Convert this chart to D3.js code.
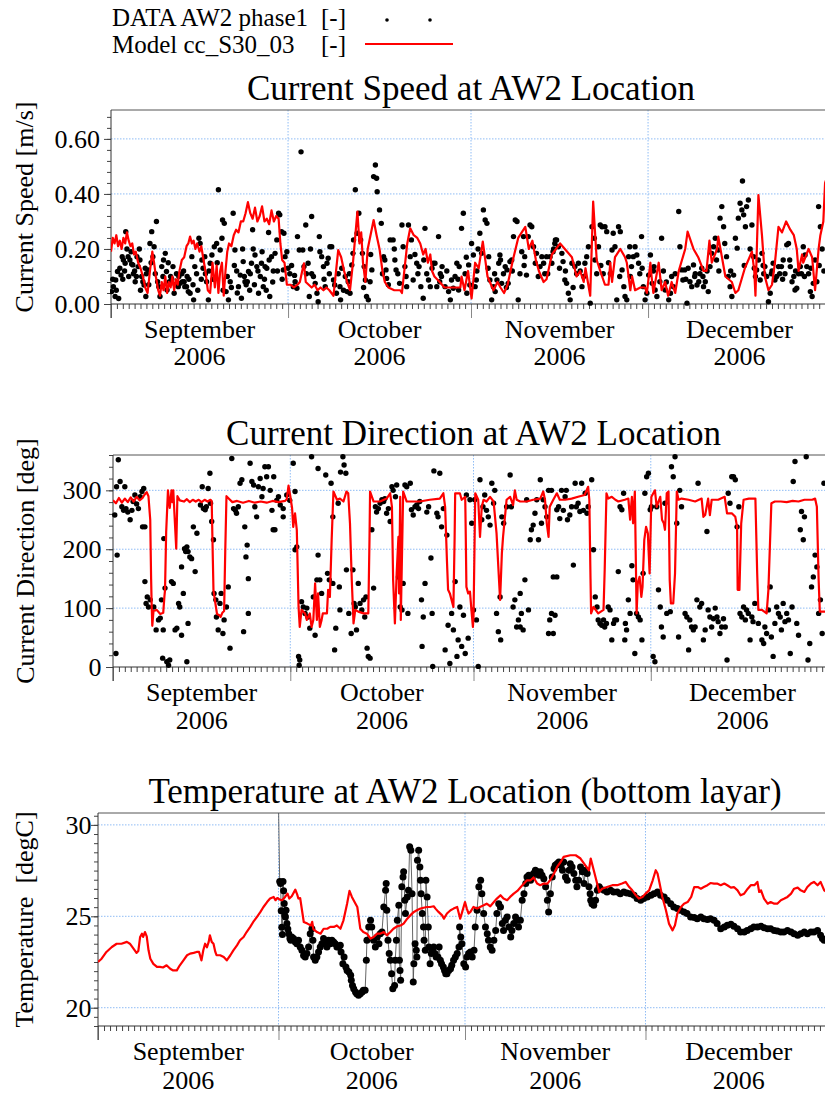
<!DOCTYPE html>
<html><head><meta charset="utf-8">
<script src="https://cdn.jsdelivr.net/npm/d3@7"></script>
<style>
body{margin:0;background:#fff}
svg{display:block}
text{font-family:"Liberation Serif","Times New Roman",serif;fill:#000}
</style>
</head><body>
<svg id="c" width="825" height="1097"></svg>
<script>
// ---------------- DATA ----------------
// day offsets are days since 2006-09-01
const monthNames = ["September","October","November","December"];
const yearLabel = "2006";
const speedTicks = [0, 0.2, 0.4, 0.6];
const dirTicks = [0, 100, 200, 300];
const tempTicks = [20, 25, 30];

const speedModel = [[0,.19],[0.3,.24],[0.6,.22],[0.9,.25],[1.2,.21],[1.5,.23],[1.8,.2],[2.1,.24],[2.4,.22],[2.7,.26],[3.0,.23],[3.3,.21],[3.6,.22],[3.9,.18],[4.2,.19],[4.6,.15],[5.0,.13],[5.4,.1],[5.8,.06],[6.2,.04],[6.6,.12],[7.0,.19],[7.3,.15],[7.6,.1],[8.0,.05],[8.3,.03],[8.6,.08],[8.9,.05],[9.2,.1],[9.5,.04],[9.8,.08],[10.1,.06],[10.4,.1],[10.7,.05],[11.0,.09],[11.3,.07],[11.6,.12],[12.0,.16],[12.4,.17],[12.8,.21],[13.1,.22],[13.4,.245],[13.7,.22],[14.0,.23],[14.3,.2],[14.6,.22],[15.0,.19],[15.3,.21],[15.6,.17],[16.0,.12],[16.4,.05],[16.8,.04],[17.2,.15],[17.6,.06],[17.9,.14],[18.2,.04],[18.5,.12],[18.8,.15],[19.1,.03],[19.4,.12],[19.7,.19],[20.0,.22],[20.4,.21],[20.8,.25],[21.2,.27],[21.6,.26],[22.0,.3],[22.4,.3],[22.8,.33],[23.2,.37],[23.6,.33],[24.0,.31],[24.4,.35],[24.8,.3],[25.2,.32],[25.6,.355],[26.0,.3],[26.4,.31],[26.8,.29],[27.2,.34],[27.6,.3],[28.0,.32],[28.4,.31],[28.7,.22],[29.0,.16],[29.4,.15],[29.8,.07],[30.4,.07],[31.0,.06],[31.6,.07],[32.0,.08],[32.4,.12],[32.7,.148],[33.0,.08],[33.5,.07],[34.0,.06],[34.5,.07],[35.0,.05],[35.5,.06],[36.0,.05],[36.5,.06],[37.0,.05],[37.7,.03],[38.5,.196],[39.0,.17],[39.5,.12],[40.0,.08],[40.5,.05],[41.0,.15],[41.75,.336],[42.1,.22],[42.4,.26],[42.7,.15],[43.1,.08],[43.5,.2],[44.5,.305],[45.0,.25],[45.5,.2],[46.0,.12],[46.4,.08],[47.0,.06],[48.0,.05],[49.0,.05],[49.3,.04],[49.7,.12],[50.2,.22],[50.7,.275],[51.3,.25],[51.9,.24],[52.4,.22],[52.9,.18],[53.3,.2],[53.7,.15],[54.1,.18],[54.4,.12],[54.8,.1],[55.7,.08],[56.5,.06],[57.5,.06],[58.3,.06],[59.2,.06],[59.4,.1],[59.9,.05],[60.5,.12],[61.1,.02],[61.7,.15],[62.3,.13],[63.0,.227],[63.8,.1],[64.8,.05],[65.5,.08],[66.0,.06],[66.6,.04],[67.2,.07],[68.1,.16],[69.0,.24],[69.6,.26],[70.2,.28],[70.8,.2],[71.4,.23],[72.0,.16],[72.5,.12],[73.3,.08],[73.8,.09],[74.7,.18],[75.4,.2],[76.1,.22],[76.9,.2],[78.1,.17],[78.9,.1],[79.5,.12],[80.1,.08],[80.4,.13],[81.2,.03],[81.7,.372],[82.3,.16],[82.9,.12],[83.7,.07],[84.3,.07],[84.6,.15],[84.9,.08],[85.4,.17],[86.3,.2],[87.1,.17],[87.4,.15],[88.0,.05],[88.3,.1],[88.8,.05],[89.7,.06],[90.5,.06],[90.8,.04],[91.4,.15],[91.6,.1],[91.9,.04],[92.8,.15],[93.3,.05],[93.9,.08],[94.4,.03],[95.0,.08],[95.6,.04],[96.2,.12],[97.3,.2],[97.7,.263],[98.7,.2],[99.5,.17],[100.4,.12],[100.9,.12],[101.4,.23],[101.8,.15],[102.7,.2],[102.9,.245],[104.1,.1],[105.2,.08],[105.8,.04],[106.3,.05],[107.4,.13],[108.6,.19],[109.0,.12],[109.2,.03],[109.7,.396],[110.3,.25],[110.8,.1],[111.4,.05],[112.0,.07],[112.5,.15],[113.1,.28],[113.7,.26],[114.4,.3],[115.1,.27],[115.7,.25],[116.2,.2],[116.5,.12],[117.1,.18],[117.3,.15],[118.2,.2],[118.8,.17],[119.3,.05],[119.9,.2],[120.2,.25],[120.7,.3],[121.0,.44],[121.3,.46]];

const speedData = [[0.1,.045],[0.3,.09],[0.4,.063],[0.7,.027],[0.8,.087],[0.9,.05],[1.1,.118],[1.3,.02],[1.5,.13],[1.7,.105],[1.9,.172],[2.0,.09],[2.1,.16],[2.3,.12],[2.4,.148],[2.5,.263],[2.7,.2],[2.9,.172],[3.0,.1],[3.2,.16],[3.4,.19],[3.5,.145],[3.7,.142],[3.8,.11],[4.0,.12],[4.1,.081],[4.3,.1],[4.4,.172],[4.6,.136],[4.8,.2],[4.9,.16],[5.0,.05],[5.2,.1],[5.4,.081],[5.6,.069],[5.8,.13],[5.9,.027],[6.0,.11],[6.3,.124],[6.4,.07],[6.6,.22],[6.8,.15],[6.9,.263],[7.1,.172],[7.3,.208],[7.5,.11],[7.7,.3],[7.9,.081],[8.1,.063],[8.3,.027],[8.6,.136],[8.8,.1],[8.9,.16],[9.2,.184],[9.4,.118],[9.5,.051],[9.7,.15],[9.9,.081],[10.1,.1],[10.3,.09],[10.5,.136],[10.7,.039],[10.9,.07],[11.1,.11],[11.4,.063],[11.5,.1],[11.7,.075],[12.0,.11],[12.1,.081],[12.3,.12],[12.4,.081],[12.5,.063],[12.8,.063],[12.9,.1],[13.1,.045],[13.2,.09],[13.4,.039],[13.7,.172],[13.9,.07],[14.0,.015],[14.2,.136],[14.5,.11],[14.7,.05],[14.9,.239],[15.1,.22],[15.3,.09],[15.4,.16],[15.6,.13],[15.9,.172],[16.0,.11],[16.2,.081],[16.5,.015],[16.6,.12],[16.8,.148],[17.1,.178],[17.3,.09],[17.5,.208],[17.9,.22],[18.0,.15],[18.2,.415],[18.5,.196],[18.8,.239],[18.9,.305],[19.0,.05],[19.2,.293],[19.5,.045],[19.7,.1],[19.9,.015],[20.2,.081],[20.4,.06],[20.7,.33],[20.9,.14],[21.0,.196],[21.3,.12],[21.4,.04],[21.6,.063],[21.9,.105],[22.1,.021],[22.3,.2],[22.4,.154],[22.6,.1],[22.7,.081],[22.9,.07],[23.1,.081],[23.3,.118],[23.5,.05],[23.6,.11],[23.8,.148],[24.0,.27],[24.1,.2],[24.3,.07],[24.4,.178],[24.7,.136],[24.9,.12],[25.0,.039],[25.3,.1],[25.5,.148],[25.6,.19],[25.8,.063],[26.0,.09],[26.1,.136],[26.3,.05],[26.4,.13],[26.7,.26],[26.8,.16],[26.9,.027],[27.2,.172],[27.4,.08],[27.5,.12],[27.8,.184],[28.1,.233],[28.2,.12],[28.4,.33],[28.6,.324],[28.9,.263],[29.0,.09],[29.2,.124],[29.3,.257],[29.5,.172],[29.8,.19],[30.0,.13],[30.3,.11],[30.6,.14],[30.9,.063],[31.1,.104],[31.2,.081],[31.5,.057],[31.6,.245],[31.9,.196],[32.2,.553],[32.5,.196],[32.7,.136],[33.0,.287],[33.1,.11],[33.4,.148],[33.6,.027],[33.8,.2],[34.0,.318],[34.0,.11],[34.3,.1],[34.6,.075],[34.9,.039],[35.1,.008],[35.3,.245],[35.4,.19],[35.7,.172],[36.0,.136],[36.1,.09],[36.3,.063],[36.6,.148],[36.8,.166],[37.0,.11],[37.1,.208],[37.4,.208],[37.7,.087],[37.9,.069],[38.2,.039],[38.5,.11],[38.8,.063],[38.9,.015],[39.1,.13],[39.4,.05],[39.7,.1],[40.0,.045],[40.2,.081],[40.4,.11],[40.5,.039],[40.8,.142],[41.0,.184],[41.1,.233],[41.4,.415],[41.7,.257],[42.0,.33],[42.3,.233],[42.6,.184],[42.8,.06],[42.9,.136],[43.1,.087],[43.3,.027],[43.6,.015],[43.9,.081],[44.0,.18],[44.2,.124],[44.5,.463],[44.8,.505],[45.0,.457],[45.1,.408],[45.5,.342],[45.8,.293],[46.0,.11],[46.2,.172],[46.4,.16],[46.6,.124],[46.7,.093],[47.0,.07],[47.3,.233],[47.8,.233],[48.0,.2],[48.1,.16],[48.3,.124],[48.6,.11],[48.9,.075],[49.3,.287],[49.5,.208],[49.8,.136],[50.0,.1],[50.1,.063],[50.4,.287],[50.7,.172],[50.9,.233],[51.2,.087],[51.5,.18],[51.8,.148],[52.0,.11],[52.2,.136],[52.5,.063],[52.9,.021],[53.0,.16],[53.2,.275],[53.5,.11],[53.8,.087],[54.1,.063],[54.4,.13],[54.6,.148],[54.9,.148],[55.2,.063],[55.5,.245],[55.7,.081],[55.8,.11],[56.0,.1],[56.1,.136],[56.6,.063],[56.9,.12],[57.2,.045],[57.5,.015],[57.7,.087],[58.0,.057],[58.3,.1],[58.6,.148],[58.8,.09],[58.9,.051],[59.0,.136],[59.4,.275],[59.7,.33],[60.0,.11],[60.2,.17],[60.3,.039],[60.6,.142],[60.8,.069],[61.1,.22],[61.4,.178],[61.7,.063],[61.9,.087],[62.0,.12],[62.2,.2],[62.5,.257],[62.8,.184],[63.1,.342],[63.4,.305],[63.7,.293],[63.9,.13],[64.0,.172],[64.2,.087],[64.5,.015],[64.8,.063],[65.0,.11],[65.1,.045],[65.4,.087],[65.7,.148],[65.9,.178],[66.0,.16],[66.2,.075],[66.5,.11],[66.8,.136],[67.0,.06],[67.1,.124],[67.3,.075],[67.6,.154],[67.9,.16],[68.0,.12],[68.2,.245],[68.5,.305],[68.8,.3],[69.0,.015],[69.3,.11],[69.6,.19],[69.9,.245],[70.0,.14],[70.1,.172],[70.4,.105],[70.7,.245],[71.0,.287],[71.3,.281],[71.6,.208],[71.9,.148],[72.1,.184],[72.4,.1],[72.7,.136],[73.0,.172],[73.3,.148],[73.5,.11],[73.8,.172],[74.0,.11],[74.4,.172],[74.7,.148],[74.9,.19],[75.0,.2],[75.2,.22],[75.3,.233],[75.5,.233],[75.8,.208],[76.0,.13],[76.4,.184],[76.6,.154],[76.9,.087],[77.0,.12],[77.2,.075],[77.5,.039],[77.8,.015],[78.1,.148],[78.3,.06],[78.6,.136],[78.9,.11],[79.2,.148],[79.5,.12],[79.8,.063],[80.1,.1],[80.3,.148],[80.6,.172],[80.9,.208],[81.2,.003],[81.5,.281],[81.9,.239],[82.0,.16],[82.3,.11],[82.6,.208],[82.9,.287],[83.0,.14],[83.2,.281],[83.4,.11],[83.7,.281],[84.0,.263],[84.3,.15],[84.6,.11],[84.9,.196],[85.1,.257],[85.4,.208],[85.7,.015],[86.0,.281],[86.2,.1],[86.3,.263],[86.6,.124],[86.9,.063],[87.1,.027],[87.4,.015],[87.7,.172],[87.9,.208],[88.0,.1],[88.2,.136],[88.5,.172],[88.8,.208],[89.1,.178],[89.4,.148],[89.6,.11],[89.9,.245],[90.0,.13],[90.2,.063],[90.5,.015],[90.8,.039],[91.1,.105],[91.4,.178],[91.7,.075],[91.9,.12],[92.0,.136],[92.2,.051],[92.5,.027],[93.0,.081],[93.3,.239],[93.6,.12],[93.9,.051],[94.1,.08],[94.5,.015],[94.8,.039],[95.0,.1],[95.3,.063],[95.6,.11],[96.2,.336],[96.4,.208],[96.7,.124],[96.9,.087],[97.2,.124],[97.4,.09],[97.6,.003],[97.8,.13],[98.1,.081],[98.4,.063],[98.7,.142],[98.9,.1],[99.0,.11],[99.3,.069],[99.6,.081],[99.8,.11],[100.1,.13],[100.3,.1],[100.4,.063],[100.7,.081],[101.0,.12],[101.2,.045],[101.5,.136],[101.8,.184],[102.1,.208],[102.4,.239],[102.6,.16],[102.9,.196],[103.0,.12],[103.2,.312],[103.5,.354],[103.8,.281],[104.0,.22],[104.3,.172],[104.6,.1],[104.9,.063],[105.0,.12],[105.2,.027],[105.5,.105],[105.8,.239],[106.1,.203],[106.3,.312],[106.6,.366],[106.9,.342],[107.0,.447],[107.2,.324],[107.3,.14],[107.5,.281],[107.7,.354],[108.0,.378],[108.3,.2],[108.6,.287],[108.9,.172],[109.0,.13],[109.2,.1],[109.4,.124],[109.7,.16],[110.0,.087],[110.3,.184],[110.5,.14],[110.6,.11],[110.8,.136],[111.1,.1],[111.4,.008],[111.7,.039],[111.9,.11],[112.0,.12],[112.2,.148],[112.5,.087],[112.8,.1],[113.1,.136],[113.3,.11],[113.6,.136],[113.8,.09],[113.9,.16],[114.2,.11],[114.5,.215],[114.8,.22],[115.0,.16],[115.1,.136],[115.4,.081],[115.7,.1],[115.9,.051],[116.0,.12],[116.2,.057],[116.5,.11],[116.8,.136],[117.0,.11],[117.3,.208],[117.5,.1],[117.6,.178],[117.9,.136],[118.2,.11],[118.5,.045],[118.6,.13],[118.8,.027],[119.0,.075],[119.3,.16],[119.6,.081],[119.9,.354],[120.0,.14],[120.2,.281],[120.5,.2],[120.8,.12]];

const dirModel = [[0,283],[0.5,278],[1,287],[1.5,279],[2,286],[2.5,280],[3,288],[3.5,281],[4,289],[4.5,283],[5.0,287],[5.3,292],[5.7,297],[6.0,290],[6.3,250],[6.45,150],[6.55,102],[6.65,70],[6.85,95],[7.4,97],[8.0,90],[8.5,92],[8.7,120],[8.8,130],[9.0,230],[9.3,300],[9.6,270],[9.9,300],[10.05,280],[10.2,300],[10.4,260],[10.7,201],[10.9,290],[11.3,283],[12,281],[12.5,285],[13,280],[13.5,284],[14,281],[14.5,284],[15,280],[15.5,284],[16,281],[16.5,284],[16.7,282],[16.9,180],[17.0,130],[17.3,110],[17.6,90],[18.0,88],[18.2,85],[18.5,92],[18.8,95],[19.0,200],[19.2,290],[19.7,285],[20.2,280],[21,282],[22,279],[23,282],[24,279],[25,281],[26,279],[27,282],[28,280],[29.1,282],[29.4,285],[29.7,308],[30.0,290],[30.3,270],[30.5,238],[30.8,261],[31.1,233],[31.4,102],[31.6,68],[31.9,97],[32.5,91],[32.8,80],[33.3,91],[33.6,68],[33.9,80],[34.2,142],[34.5,80],[34.7,125],[35.0,68],[35.3,80],[35.5,91],[36.2,91],[36.4,131],[36.7,119],[37.0,216],[37.3,298],[37.9,284],[38.4,286],[39.0,281],[39.5,298],[39.8,295],[40.1,244],[40.4,148],[40.7,74],[41.0,97],[41.5,94],[42.4,91],[43.2,91],[43.4,216],[43.5,298],[44.1,281],[45.2,281],[46.3,286],[46.9,295],[47.2,272],[47.4,148],[47.7,74],[48.0,159],[48.3,221],[48.4,125],[48.6,289],[48.7,80],[48.8,136],[49.1,298],[49.7,281],[50.8,281],[51.9,281],[53.6,284],[55.3,286],[55.9,295],[56.2,272],[56.5,182],[56.7,131],[57.0,125],[57.6,102],[57.8,216],[57.9,295],[58.7,295],[59.0,284],[59.6,289],[59.7,216],[59.8,136],[60.1,125],[60.4,128],[60.7,91],[60.9,68],[61.0,85],[61.3,295],[61.8,284],[62.1,221],[62.4,272],[62.7,284],[63.2,281],[63.8,289],[64.4,281],[64.9,227],[65.2,170],[65.5,114],[65.8,193],[66.0,221],[66.6,284],[67.2,289],[67.7,275],[68.0,300],[68.3,284],[68.9,281],[70.0,281],[71.1,284],[72.3,286],[72.8,298],[73.1,284],[73.4,244],[73.7,221],[73.9,272],[74.5,284],[75.1,295],[75.6,284],[76.5,284],[77.6,286],[78.7,289],[79.8,292],[80.4,306],[80.6,284],[80.8,150],[80.9,91],[81.3,102],[82.1,91],[83.0,97],[83.2,165],[83.5,295],[83.8,286],[84.4,289],[85.0,284],[85.5,281],[86.6,284],[87.2,286],[87.5,250],[87.8,289],[88.0,244],[88.3,298],[88.6,91],[88.8,142],[89.1,153],[89.4,119],[89.6,136],[89.9,216],[90.2,238],[90.5,227],[90.8,159],[91.1,289],[91.7,300],[92.0,272],[92.3,281],[92.6,289],[92.9,250],[93.2,244],[93.4,233],[93.7,295],[94.0,298],[94.2,148],[94.4,108],[94.8,108],[95.1,159],[95.4,298],[95.7,284],[96.2,286],[97.4,284],[98.5,281],[99.6,286],[99.9,255],[100.2,258],[100.7,286],[101.0,258],[101.3,284],[102.4,284],[103.5,289],[103.9,261],[104.7,261],[105.3,255],[105.6,238],[105.7,131],[106.0,131],[106.3,244],[106.7,284],[107.6,286],[108.7,286],[109.0,160],[109.2,97],[109.8,97],[110.6,91],[110.9,131],[111.4,278],[112,281],[113,281],[114,280],[115,282],[116,281],[117,284],[118.3,284],[118.8,286],[119.1,272],[119.4,148],[119.6,94],[120.5,94],[121.3,94]];

const dirData = [[0.3,258],[0.6,306],[0.9,352],[0.5,23],[0.7,190],[1.2,315],[1.5,272],[2.0,306],[1.8,266],[2.2,269],[2.5,263],[2.9,250],[3.2,266],[3.4,281],[3.7,292],[4.0,277],[4.3,269],[4.6,289],[4.9,298],[5.2,303],[5.0,238],[5.4,238],[5.4,145],[5.6,108],[5.8,119],[6.0,102],[6.3,114],[6.9,102],[7.3,63],[7.7,80],[8.0,83],[8.2,114],[8.5,63],[8.4,15],[8.6,218],[8.8,134],[9.1,9],[9.4,3],[9.6,12],[9.9,145],[10.2,142],[10.5,63],[10.8,66],[11.1,108],[11.3,102],[11.6,170],[11.6,54],[11.9,125],[12.1,201],[12.3,196],[12.5,204],[12.7,196],[12.7,74],[12.5,9],[13.0,187],[13.3,184],[13.6,238],[13.9,162],[14.2,227],[14.8,275],[15.1,306],[15.3,269],[15.6,267],[15.8,272],[16.1,303],[16.4,329],[16.5,278],[16.7,247],[17.0,216],[17.1,125],[17.4,114],[17.5,85],[17.8,63],[18.1,108],[18.3,125],[18.6,57],[18.8,80],[19.2,102],[19.5,136],[19.8,32],[20.1,354],[20.4,269],[20.7,266],[20.9,261],[21.2,272],[21.5,312],[21.8,318],[22.1,60],[22.3,238],[22.5,187],[22.7,207],[22.9,91],[22.9,150],[23.2,346],[23.5,315],[23.8,309],[24.0,272],[24.3,255],[24.6,306],[24.9,320],[25.2,289],[25.4,303],[25.7,340],[26.0,323],[26.3,340],[26.6,300],[26.9,266],[27.1,233],[27.4,233],[27.2,323],[27.7,283],[28.0,289],[28.3,275],[28.8,269],[28.8,255],[29.4,292],[29.9,283],[30.5,346],[30.8,298],[30.8,199],[31.1,204],[31.4,18],[31.5,3],[31.6,12],[31.9,111],[32.2,102],[32.5,91],[32.8,100],[33.0,85],[33.3,66],[33.6,357],[33.9,119],[34.2,54],[34.5,148],[34.7,190],[34.7,337],[35.0,148],[35.3,125],[36.0,326],[36.3,159],[36.6,148],[36.9,312],[37.2,142],[37.2,255],[37.5,29],[37.7,66],[38.1,278],[38.3,136],[38.4,97],[38.5,331],[38.9,357],[39.1,343],[39.4,329],[39.5,165],[39.9,91],[40.3,57],[40.6,165],[40.8,108],[41.0,102],[41.2,63],[41.5,142],[41.8,108],[42.1,97],[42.4,114],[42.6,85],[42.8,119],[43.0,32],[43.2,18],[43.5,15],[43.8,233],[44.1,134],[44.4,272],[44.6,263],[44.9,269],[45.2,278],[45.5,284],[45.8,281],[46.0,286],[46.3,261],[46.6,269],[46.9,247],[47.2,306],[47.4,300],[47.8,289],[48.0,309],[48.3,153],[48.6,102],[48.9,97],[49.1,142],[49.4,309],[49.7,306],[49.9,91],[50.3,312],[50.5,267],[50.8,258],[51.1,272],[51.4,275],[51.7,269],[51.9,281],[52.2,114],[52.3,35],[52.5,85],[52.8,142],[53.1,263],[53.4,272],[53.8,185],[54.0,91],[54.1,1],[54.3,333],[54.8,261],[55.0,255],[55.3,329],[55.6,238],[55.9,269],[56.2,29],[56.5,224],[56.7,71],[57.0,6],[57.3,91],[57.6,63],[57.9,145],[58.2,18],[58.4,46],[58.7,102],[59.0,35],[59.3,88],[59.6,23],[59.8,292],[60.1,49],[60.4,284],[60.7,244],[61.0,97],[61.2,284],[61.5,80],[61.8,1],[62.1,318],[62.4,250],[62.6,272],[62.9,292],[63.2,266],[63.5,255],[63.8,241],[64.1,312],[64.4,278],[64.6,300],[64.9,91],[65.2,60],[65.5,119],[65.6,46],[65.8,255],[66.1,244],[66.6,272],[67.2,326],[67.4,272],[67.7,102],[68.0,114],[68.3,68],[68.6,80],[68.9,68],[68.9,125],[69.1,91],[69.4,63],[69.7,148],[70.0,284],[70.3,97],[70.6,216],[70.8,233],[71.1,241],[71.4,261],[71.7,284],[72.0,216],[72.3,318],[72.5,244],[72.8,284],[73.1,272],[73.4,255],[73.7,300],[73.7,57],[73.9,80],[74.2,91],[74.2,300],[74.5,153],[74.5,57],[74.8,88],[75.1,267],[75.1,153],[75.4,272],[75.6,252],[75.9,300],[76.2,266],[76.5,289],[76.7,300],[76.9,250],[77.3,258],[77.6,272],[77.9,173],[78.2,312],[78.4,272],[78.7,278],[79.0,264],[79.3,312],[79.6,266],[79.9,295],[80.2,261],[80.4,272],[81.0,318],[81.3,199],[81.6,119],[81.9,102],[82.1,80],[82.4,74],[82.7,71],[83.0,80],[83.2,68],[83.5,74],[83.8,102],[84.1,97],[84.4,46],[84.7,74],[84.9,80],[85.2,80],[85.5,162],[85.8,272],[86.1,267],[86.4,295],[86.6,46],[86.7,74],[86.9,63],[87.2,114],[87.5,91],[87.8,172],[88.0,148],[88.3,23],[88.6,91],[88.9,85],[89.2,80],[89.5,46],[89.7,159],[90.0,295],[90.3,323],[90.6,329],[90.9,267],[91.1,272],[91.4,18],[91.7,9],[92.0,272],[92.3,131],[92.6,102],[92.8,68],[93.1,51],[93.4,278],[93.7,91],[94.3,94],[94.5,340],[94.8,323],[95.1,357],[95.4,244],[95.7,51],[95.9,300],[96.2,272],[96.8,91],[97.1,85],[97.4,29],[97.6,80],[97.9,68],[98.2,63],[98.5,68],[98.8,114],[99.0,312],[99.3,102],[99.6,108],[99.9,46],[100.2,63],[100.5,230],[100.7,97],[101.0,85],[101.3,68],[101.6,82],[101.9,100],[102.2,85],[102.4,77],[102.7,57],[103.0,68],[103.3,82],[103.6,68],[103.9,12],[104.1,295],[104.4,278],[104.7,323],[105.0,323],[105.3,318],[105.6,238],[105.9,272],[106.1,91],[106.4,85],[106.7,102],[107.0,80],[107.2,97],[107.5,91],[107.8,46],[108.1,85],[108.3,77],[108.6,108],[109.2,74],[109.8,46],[110.1,40],[110.3,68],[110.6,57],[110.9,97],[111.2,136],[111.4,51],[111.7,18],[112.0,74],[112.3,102],[112.6,91],[112.9,85],[113.1,63],[113.4,108],[113.7,77],[114.0,91],[114.3,80],[114.6,23],[114.9,102],[115.1,315],[115.4,349],[115.7,74],[116.0,54],[116.3,233],[116.5,264],[116.8,216],[117.0,255],[117.3,357],[117.6,12],[117.9,40],[118.2,136],[118.5,153],[118.8,190],[119.1,170],[119.4,91],[119.7,114],[120.0,57],[120.3,312]];

const tempModel = [[0,22.5],[0.6,22.68],[1.4,23.05],[2.3,23.32],[3.1,23.5],[3.9,23.5],[4.8,23.6],[5.3,23.5],[5.9,23.23],[6.4,23.0],[6.7,23.1],[7.0,23.87],[7.3,24.05],[7.5,23.87],[7.8,24.14],[8.1,23.9],[8.4,23.14],[8.7,22.68],[9.2,22.4],[9.8,22.23],[10.3,22.23],[10.8,22.2],[11.4,22.32],[12.0,22.13],[12.5,22.04],[13.1,22.04],[13.6,22.32],[14.2,22.59],[14.8,22.87],[15.3,22.96],[15.9,23.0],[16.4,23.05],[16.8,23.05],[17.2,22.59],[17.5,23.14],[17.8,23.5],[18.1,23.3],[18.4,23.6],[18.6,23.96],[18.9,23.6],[19.2,23.5],[19.5,23.05],[19.7,22.87],[20.3,22.87],[20.9,22.77],[21.4,22.59],[22.0,22.87],[22.5,23.14],[23.1,23.41],[23.6,23.69],[24.2,23.87],[24.7,24.14],[25.3,24.42],[25.8,24.69],[26.4,24.96],[27.0,25.24],[27.5,25.51],[28.1,25.78],[28.6,25.97],[29.2,26.06],[29.5,25.88],[29.8,26.0],[30.3,25.9],[30.6,25.88],[31.1,26.06],[31.5,26.24],[31.8,25.97],[32.2,26.1],[32.8,26.46],[33.1,26.2],[33.3,25.97],[33.6,26.0],[34.2,24.69],[34.8,24.6],[35.4,24.5],[35.6,24.7],[35.8,24.3],[36.4,24.14],[37.0,24.05],[37.5,24.32],[38.1,24.32],[38.6,24.42],[39.2,24.42],[39.7,24.5],[40.3,24.32],[40.8,24.78],[41.4,25.69],[41.8,26.39],[42.2,26.06],[42.8,25.69],[43.1,25.51],[43.6,24.32],[44.1,24.14],[44.7,24.05],[45.3,23.78],[45.8,23.87],[46.4,24.05],[46.9,24.05],[47.5,24.14],[48.0,23.96],[48.6,24.14],[49.1,24.32],[49.7,24.45],[50.3,24.5],[50.8,24.6],[51.4,24.87],[51.9,25.05],[52.5,25.24],[53.0,25.33],[53.6,25.42],[54.1,25.47],[54.7,25.51],[55.2,25.51],[55.8,25.55],[56.1,25.42],[56.6,25.24],[57.2,25.05],[57.5,24.87],[58.0,25.15],[58.6,25.33],[59.1,25.42],[59.7,25.51],[60.2,24.87],[60.5,25.2],[61.0,25.78],[61.3,25.42],[61.6,25.15],[61.9,25.24],[62.4,25.51],[63.0,25.42],[63.5,25.51],[64.1,25.6],[64.6,25.69],[65.2,25.55],[65.8,25.78],[66.3,25.97],[66.9,26.15],[67.4,25.97],[68.0,25.88],[68.5,26.06],[69.1,26.24],[69.7,26.39],[70.2,26.57],[70.8,26.79],[71.3,26.97],[71.9,26.97],[72.4,27.12],[73.0,26.79],[73.5,26.7],[74.1,26.79],[74.7,26.79],[75.2,27.0],[75.8,27.34],[76.3,27.7],[76.9,27.97],[77.4,28.25],[78.5,28.34],[79.4,28.34],[80.2,28.16],[81.0,27.79],[81.6,27.52],[81.9,28.16],[82.4,27.52],[82.9,26.88],[83.3,26.33],[83.8,26.51],[84.6,26.6],[85.5,26.7],[86.3,26.7],[87.1,26.79],[87.7,26.88],[88.3,26.6],[88.8,26.42],[89.4,26.15],[89.9,25.97],[90.5,26.06],[91.0,26.24],[91.6,26.42],[92.2,26.97],[92.7,27.52],[93.0,27.34],[93.3,26.88],[93.8,26.06],[94.4,25.33],[94.9,24.6],[95.5,24.23],[95.9,24.51],[96.3,25.15],[96.9,25.51],[97.4,25.69],[98.0,25.78],[98.6,26.06],[99.1,26.6],[99.7,26.6],[100.2,26.51],[100.7,26.6],[101.3,26.7],[101.8,26.82],[102.4,26.79],[102.9,26.79],[103.5,26.7],[104.1,26.79],[104.6,26.7],[105.2,26.57],[105.7,26.6],[106.3,26.42],[106.8,26.15],[107.4,26.24],[108.0,26.51],[108.5,26.7],[109.1,26.7],[109.6,26.88],[109.9,26.33],[110.2,26.42],[110.7,25.97],[111.3,25.69],[111.8,25.78],[112.4,25.69],[112.9,25.69],[113.5,25.88],[114.1,25.97],[114.6,26.06],[115.2,26.24],[115.7,26.51],[116.3,26.57],[116.8,26.42],[117.4,26.33],[117.9,26.6],[118.5,26.79],[119.0,26.88],[119.6,26.7],[120.1,26.88],[120.7,26.42],[121.2,26.3]];

const tempData = [[30.0,31.2],[30.2,26.9],[30.35,26.8],[30.45,25.3],[30.55,24.4],[30.65,24.0],[30.75,26.9],[30.85,26.4],[30.95,25.7],[31.05,25.05],[31.15,24.96],[31.25,25.33],[31.4,24.6],[31.55,24.3],[31.7,24.05],[31.9,23.78],[32.05,23.69],[32.2,23.87],[32.5,23.78],[32.8,23.59],[33.06,23.5],[33.33,23.69],[33.61,23.32],[33.89,23.14],[34.17,22.86],[34.44,22.77],[34.72,22.96],[35.0,23.32],[35.27,24.05],[35.55,24.32],[35.72,23.69],[35.83,22.77],[36.11,22.59],[36.38,22.77],[36.66,23.05],[36.94,23.32],[37.22,23.5],[37.49,23.78],[37.77,23.5],[38.05,23.32],[38.33,23.69],[38.6,23.5],[38.88,23.69],[39.16,23.59],[39.43,23.5],[39.71,23.32],[39.99,23.32],[40.27,23.41],[40.4,23.05],[40.7,22.41],[40.9,22.77],[41.2,22.23],[41.4,22.04],[41.7,21.95],[42.0,21.77],[42.1,21.5],[42.3,21.22],[42.5,21.04],[42.8,20.86],[43.0,20.77],[43.3,20.68],[43.6,20.77],[43.9,20.86],[44.1,20.95],[44.4,20.95],[44.6,22.59],[44.7,23.69],[45.0,24.42],[45.3,24.78],[45.5,24.42],[45.8,23.69],[46.1,23.32],[46.4,23.87],[46.7,23.5],[46.9,24.05],[47.2,24.14],[47.5,25.51],[47.8,26.42],[47.9,26.79],[48.0,25.33],[48.2,23.69],[48.4,22.96],[48.6,22.59],[48.8,21.86],[49.0,21.04],[49.3,21.22],[49.4,22.59],[49.6,23.69],[49.75,24.78],[50.0,25.6],[50.1,22.59],[50.2,22.04],[50.3,21.5],[50.5,26.61],[50.7,27.15],[50.8,27.43],[51.0,25.88],[51.1,25.15],[51.4,26.06],[51.6,26.42],[51.8,28.8],[52.0,28.61],[52.2,26.24],[52.4,21.41],[52.5,22.41],[52.7,23.5],[52.9,23.14],[53.0,22.77],[53.1,28.07],[53.3,28.61],[53.5,27.7],[53.6,26.97],[53.7,26.24],[53.9,25.15],[54.1,24.42],[54.2,23.69],[54.4,23.14],[54.5,26.97],[54.7,26.06],[54.9,24.42],[55.0,23.32],[55.2,22.41],[55.4,22.96],[55.6,23.14],[55.8,23.32],[56.0,22.96],[56.2,22.77],[56.5,22.77],[56.7,23.32],[56.9,22.59],[57.1,22.41],[57.4,22.23],[57.6,22.04],[57.8,21.86],[58.0,21.86],[58.3,22.04],[58.6,22.13],[58.8,22.32],[59.1,22.59],[59.4,22.77],[59.7,22.96],[60.0,23.32],[60.1,24.42],[60.3,23.87],[60.5,23.5],[60.8,22.41],[61.1,22.23],[61.3,22.77],[61.6,22.96],[61.9,23.05],[62.2,22.77],[62.5,23.14],[62.7,24.42],[63.0,25.33],[63.3,26.61],[63.6,26.97],[63.8,26.24],[64.1,25.15],[64.4,24.42],[64.7,24.05],[64.9,23.69],[65.2,23.32],[65.5,23.14],[65.8,23.69],[66.1,24.23],[66.3,25.15],[66.6,25.69],[66.9,25.51],[67.2,24.6],[67.4,24.23],[67.7,24.78],[68.0,24.96],[68.3,24.42],[68.6,23.87],[68.8,24.23],[69.1,24.6],[69.4,24.96],[69.7,24.78],[69.9,24.42],[70.2,24.78],[70.5,25.88],[70.8,26.24],[71.1,26.79],[71.3,27.15],[71.6,27.24],[71.9,26.97],[72.2,27.15],[72.4,27.34],[72.7,27.52],[73.0,27.43],[73.3,27.24],[73.5,27.43],[73.8,27.24],[74.1,27.06],[74.4,26.61],[74.7,25.88],[74.9,25.24],[75.2,26.24],[75.5,27.15],[75.8,27.61],[76.0,27.79],[76.3,27.88],[76.6,27.97],[76.9,27.79],[77.2,27.52],[77.4,27.97],[77.7,27.15],[78.0,26.97],[78.3,27.52],[78.5,27.88],[78.8,27.7],[79.1,27.34],[79.4,26.97],[79.6,26.61],[79.9,26.97],[80.2,27.7],[80.5,27.43],[80.8,26.79],[81.0,27.52],[81.3,27.34],[81.6,26.61],[81.8,26.24],[81.9,25.88],[82.1,25.69],[82.4,25.6],[82.7,25.88],[83.0,26.42],[83.3,26.61],[83.5,26.51],[84.1,26.42],[84.6,26.33],[85.2,26.42],[85.7,26.33],[86.3,26.33],[86.8,26.24],[87.4,26.33],[87.9,26.28],[88.5,26.24],[89.1,26.15],[89.6,25.97],[90.2,25.88],[90.7,25.97],[91.3,26.06],[91.9,26.15],[92.4,26.24],[93.0,26.33],[93.5,26.15],[94.1,26.06],[94.6,25.88],[95.2,25.69],[95.7,25.51],[96.3,25.42],[96.8,25.33],[97.4,25.24],[97.9,25.15],[98.5,24.96],[99.1,24.93],[99.6,24.87],[100.2,24.96],[100.7,24.87],[101.3,24.82],[101.8,24.87],[102.4,24.78],[102.9,24.6],[103.5,24.32],[104.1,24.42],[104.6,24.51],[105.2,24.56],[105.7,24.45],[106.3,24.32],[106.8,24.14],[107.4,24.14],[107.9,24.23],[108.5,24.32],[109.0,24.42],[109.6,24.42],[110.2,24.45],[110.7,24.38],[111.3,24.32],[111.8,24.32],[112.4,24.23],[112.9,24.2],[113.5,24.14],[114.0,24.14],[114.6,24.23],[115.2,24.14],[115.7,24.05],[116.3,23.96],[116.8,24.05],[117.4,24.14],[117.9,24.05],[118.5,24.14],[119.0,24.14],[119.6,24.23],[120.1,23.96],[120.4,23.78],[120.7,23.69],[121.2,23.75]];

// ---------------- DRAWING ----------------
const T0 = Date.UTC(2006, 8, 1);
const DAY = 86400000;
const toDate = d => new Date(T0 + d * DAY);
const W = 825;
const RED = "#ff0000";

const panels = [
  {title:"Current Speed at AW2 Location", ylab:"Current Speed [m/s]", left:111, right:831, top:110, bottom:304,
   domain:[0,0.705], ticks:speedTicks, minor:0.04, fmt:d3.format(".2f"), gap:11, titleY:100, ylabX:33,
   lab1:34, lab2:61, model:speedModel, data:speedData, r:2.7, connect:false},
  {title:"Current Direction at AW2 Location", ylab:"Current Direction [deg]", left:113, right:834, top:455, bottom:667,
   domain:[0,360], ticks:dirTicks, minor:20, fmt:d3.format("d"), gap:11.5, titleY:445, ylabX:34,
   lab1:34, lab2:62, model:dirModel, data:dirData, r:2.7, connect:false},
  {title:"Temperature at AW2 Location (bottom layar)", ylab:"Temperature  [degC]", left:98, right:832, top:813, bottom:1026,
   domain:[19,30.65], ticks:tempTicks, minor:0.5, fmt:d3.format("d"), gap:6.5, titleY:803, ylabX:33,
   lab1:34, lab2:63, model:tempModel, data:tempData, r:3.5, connect:true}
];

const svg = d3.select("#c");
const defs = svg.append("defs");

panels.forEach((p, i) => {
  const x = d3.scaleUtc().domain([toDate(0), toDate(122)]).range([p.left, p.right]);
  const y = d3.scaleLinear().domain(p.domain).range([p.bottom, p.top]);
  const g = svg.append("g");

  defs.append("clipPath").attr("id", "clipL" + i).append("rect")
    .attr("x", p.left).attr("y", p.top).attr("width", W - p.left).attr("height", p.bottom - p.top);
  defs.append("clipPath").attr("id", "clipD" + i).append("rect")
    .attr("x", p.left - 1).attr("y", p.top - 3).attr("width", W - p.left + 1).attr("height", p.bottom - p.top + 6);

  const monthStarts = d3.utcMonth.range(toDate(0), toDate(123));

  // grid
  const grid = g.append("g").attr("stroke", "#8fbcf5").attr("stroke-width", 1).attr("stroke-dasharray", "1.5,1.5");
  grid.selectAll("line.v").data(monthStarts.slice(1)).join("line")
    .attr("x1", d => x(d)).attr("x2", d => x(d)).attr("y1", p.top).attr("y2", p.bottom);
  grid.selectAll("line.h").data(p.ticks.filter(t => t > p.domain[0])).join("line")
    .attr("x1", p.left).attr("x2", W).attr("y1", d => y(d)).attr("y2", d => y(d));

  // title
  g.append("text").attr("x", (p.left + p.right) / 2).attr("y", p.titleY)
    .attr("text-anchor", "middle").attr("font-size", 35).text(p.title);

  // y label
  g.append("text").attr("transform", `translate(${p.ylabX},${(p.top + p.bottom) / 2}) rotate(-90)`)
    .attr("text-anchor", "middle").attr("font-size", 26).style("white-space", "pre").text(p.ylab);

  // y axis
  const n0 = Math.ceil(p.domain[0] / p.minor - 1e-9), n1 = Math.floor(p.domain[1] / p.minor + 1e-9);
  const minorVals = d3.range(n0, n1 + 1).map(k => +(k * p.minor).toFixed(6));
  const yMinor = g.append("g").attr("transform", `translate(${p.left},0)`)
    .call(d3.axisLeft(y).tickValues(minorVals).tickSize(4).tickFormat(""));
  yMinor.select(".domain").remove();
  yMinor.selectAll("line").attr("stroke", "#444");
  const yMajor = g.append("g").attr("transform", `translate(${p.left},0)`)
    .call(d3.axisLeft(y).tickValues(p.ticks).tickSize(7).tickPadding(p.gap - 7).tickFormat(p.fmt));
  yMajor.select(".domain").remove();
  yMajor.selectAll("line").attr("stroke", "#444");
  yMajor.selectAll("text").attr("font-family", "Liberation Serif, Times New Roman, serif").attr("font-size", 26).attr("fill", "#000");
  yMajor.attr("font-family", null).attr("font-size", null);

  // x axis
  const xMinor = g.append("g").attr("transform", `translate(0,${p.bottom})`)
    .call(d3.axisBottom(x).tickValues(d3.utcDay.range(toDate(0), toDate(122))).tickSize(5).tickFormat(""));
  xMinor.select(".domain").remove();
  xMinor.selectAll("line").attr("stroke", "#444");
  const xMajor = g.append("g").attr("transform", `translate(0,${p.bottom})`)
    .call(d3.axisBottom(x).tickValues(monthStarts).tickSize(14).tickFormat(""));
  xMajor.select(".domain").remove();
  xMajor.selectAll("line").attr("stroke", "#888");

  // frame
  g.append("line").attr("x1", p.left).attr("x2", W).attr("y1", p.top).attr("y2", p.top).attr("stroke", "#555");
  g.append("line").attr("x1", p.left).attr("x2", W).attr("y1", p.bottom).attr("y2", p.bottom).attr("stroke", "#333");
  g.append("line").attr("x1", p.left).attr("x2", p.left).attr("y1", p.top).attr("y2", p.bottom + 14).attr("stroke", "#333");

  // month labels
  monthNames.forEach((m, k) => {
    const mid = new Date((+monthStarts[k] + +monthStarts[k + 1]) / 2);
    g.append("text").attr("x", x(mid)).attr("y", p.bottom + p.lab1).attr("text-anchor", "middle").attr("font-size", 26).text(m);
    g.append("text").attr("x", x(mid)).attr("y", p.bottom + p.lab2).attr("text-anchor", "middle").attr("font-size", 26).text(yearLabel);
  });

  // data
  if (p.connect) {
    g.append("path").datum(p.data).attr("clip-path", `url(#clipL${i})`)
      .attr("fill", "none").attr("stroke", "#555").attr("stroke-width", 0.9)
      .attr("d", d3.line().x(d => x(toDate(d[0]))).y(d => y(d[1])));
  }
  g.append("g").attr("clip-path", `url(#clipD${i})`).selectAll("circle")
    .data(p.data.filter(d => d[1] <= p.domain[1])).join("circle")
    .attr("cx", d => x(toDate(d[0]))).attr("cy", d => y(d[1])).attr("r", p.r).attr("fill", "#000");

  // model line
  g.append("path").datum(p.model).attr("clip-path", `url(#clipL${i})`)
    .attr("fill", "none").attr("stroke", RED).attr("stroke-width", 2.2).attr("stroke-linejoin", "round")
    .attr("d", d3.line().x(d => x(toDate(d[0]))).y(d => y(d[1])));
});

// legend
const lg = svg.append("g").attr("font-size", 25);
lg.append("text").attr("x", 112).attr("y", 26).text("DATA AW2 phase1");
lg.append("text").attr("x", 321).attr("y", 26).text("[-]");
lg.append("text").attr("x", 112).attr("y", 53).text("Model cc_S30_03");
lg.append("text").attr("x", 321).attr("y", 53).text("[-]");
lg.selectAll("circle").data([387, 430]).join("circle").attr("cx", d => d).attr("cy", 20).attr("r", 1.8).attr("fill", "#000");
lg.append("line").attr("x1", 365).attr("x2", 453).attr("y1", 44).attr("y2", 44).attr("stroke", RED).attr("stroke-width", 2.2);
</script>
</body></html>
